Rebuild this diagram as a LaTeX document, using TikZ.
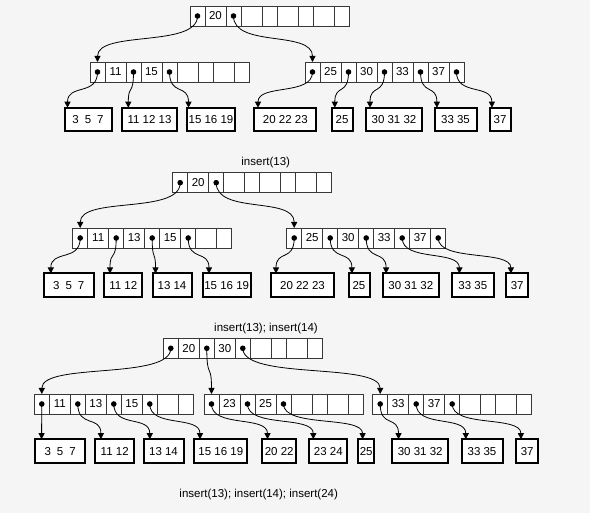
\documentclass[tikz,border=0pt]{standalone}
\usepackage{fontspec}
\setmainfont{Liberation Sans}
\usetikzlibrary{arrows.meta,calc}
\definecolor{bg}{HTML}{F5F5F5}
\definecolor{cellline}{HTML}{383838}
\tikzset{
  cell/.style={draw=cellline, line width=0.9pt, fill=white, minimum height=20pt,
    inner sep=0pt, outer sep=0pt, font=\fontsize{11.5}{13}\selectfont, anchor=west},
  pcell/.style={cell, minimum width=15pt},
  kcell/.style={cell, minimum width=21pt},
  leaf/.style={draw=black, line width=2pt, fill=white, inner sep=0pt, outer sep=0pt,
    font=\fontsize{11.5}{13}\selectfont},
  link/.style={draw=black, line width=0.8pt, -{Triangle[length=6pt,width=6pt]}},
  caption/.style={font=\fontsize{11.5}{13}\selectfont, inner sep=0pt},
}
% internal B-tree node: name, left x, top y, four keys
\newcommand\bnode[7]{%
  \node[pcell, anchor=north west] (#1p0) at (#2,#3) {};
  \node[kcell] (#1k1) at (#1p0.east) {#4};
  \node[pcell] (#1p1) at (#1k1.east) {};
  \node[kcell] (#1k2) at (#1p1.east) {#5};
  \node[pcell] (#1p2) at (#1k2.east) {};
  \node[kcell] (#1k3) at (#1p2.east) {#6};
  \node[pcell] (#1p3) at (#1k3.east) {};
  \node[kcell] (#1k4) at (#1p3.east) {#7};
  \node[pcell] (#1p4) at (#1k4.east) {};
}
% leaf block: name, centre x, centre y, width, height, contents
\newcommand\leafbox[6]{%
  \node[leaf, minimum width=#4pt, minimum height=#5pt] (#1) at (#2,#3) {#6};
}
% pointer: source cell, target node, x offset from its north-west corner, bend length
\newcommand\ptr[4]{%
  \fill (#1.center) circle (2.8pt);
  \draw[link] (#1.center) .. controls +(0,#4) and ($(#2.north west)+(#3,-#4)$)
    .. ($(#2.north west)+(#3,0)$);
}
\newcommand\gapp{\hspace{6pt}}
\begin{document}
\begin{tikzpicture}[x=1pt,y=-1pt]
\fill[bg] (0,0) rectangle (590,513);
\useasboundingbox (0,0) rectangle (590,513);

% ---------- first tree ----------
\bnode{ta}{190}{6}{20}{}{}{}
\bnode{aa}{90}{62}{11}{15}{}{}
\bnode{ba}{305}{62}{25}{30}{33}{37}
\leafbox{la1}{88}{119.2}{47}{23}{3\gapp 5\gapp 7}
\leafbox{la2}{149.5}{119.2}{55}{23}{11 12 13}
\leafbox{la3}{211}{119.2}{48}{23}{15 16 19}
\leafbox{la4}{285.3}{119.2}{62}{23}{20 22 23}
\leafbox{la5}{342}{119.2}{21}{23}{25}
\leafbox{la6}{394}{119.2}{56}{23}{30 31 32}
\leafbox{la7}{455.5}{119.2}{42}{23}{33 35}
\leafbox{la8}{500}{119.2}{21}{23}{37}
\ptr{tap0}{aap0}{7.5}{32}
\ptr{tap1}{bap0}{7.5}{32}
\ptr{aap0}{la1}{3}{24}
\ptr{aap1}{la2}{6.3}{24}
\ptr{aap2}{la3}{1.5}{24}
\ptr{bap0}{la4}{3.7}{24}
\ptr{bap1}{la5}{3.3}{24}
\ptr{bap2}{la6}{4}{24}
\ptr{bap3}{la7}{2.4}{24}
\ptr{bap4}{la8}{2.4}{24}

% ---------- second tree ----------
\node[caption] (capb) at (265.7,163) {insert(13)};
\bnode{tb}{172.7}{172.7}{20}{}{}{}
\bnode{ab}{72.7}{228}{11}{13}{15}{}
\bnode{bb}{286.7}{228}{25}{30}{33}{37}
\leafbox{lb1}{68.8}{285.5}{50}{24}{3\gapp 5\gapp 7}
\leafbox{lb2}{123.3}{285.5}{38}{24}{11 12}
\leafbox{lb3}{172}{285.5}{39}{24}{13 14}
\leafbox{lb4}{226.7}{285.5}{48}{24}{15 16 19}
\leafbox{lb5}{302.5}{285.5}{63}{24}{20 22 23}
\leafbox{lb6}{359}{285.5}{21}{24}{25}
\leafbox{lb7}{410.8}{285.5}{56}{24}{30 31 32}
\leafbox{lb8}{472.8}{285.5}{42}{24}{33 35}
\leafbox{lb9}{517.2}{285.5}{22}{24}{37}
\ptr{tbp0}{abp0}{7.5}{32}
\ptr{tbp1}{bbp0}{7.5}{32}
\ptr{abp0}{lb1}{7}{24}
\ptr{abp1}{lb2}{5.7}{24}
\ptr{abp2}{lb3}{3}{24}
\ptr{abp3}{lb4}{6.3}{24}
\ptr{bbp0}{lb5}{5}{24}
\ptr{bbp1}{lb6}{3.4}{24}
\ptr{bbp2}{lb7}{3.3}{24}
\ptr{bbp3}{lb8}{7.6}{24}
\ptr{bbp4}{lb9}{4.7}{24}

% ---------- third tree ----------
\node[caption] (capc) at (266,329) {insert(13); insert(14)};
\bnode{tc}{163.3}{338.3}{20}{30}{}{}
\bnode{ac}{34.3}{394}{11}{13}{15}{}
\bnode{mc}{204}{394}{23}{25}{}{}
\bnode{cc}{372.7}{394}{33}{37}{}{}
\leafbox{lc1}{60.2}{451.2}{50}{24}{3\gapp 5\gapp 7}
\leafbox{lc2}{114.7}{451.2}{39}{24}{11 12}
\leafbox{lc3}{163.5}{451.2}{40}{24}{13 14}
\leafbox{lc4}{220.8}{451.2}{53}{24}{15 16 19}
\leafbox{lc5}{279.2}{451.2}{34}{24}{20 22}
\leafbox{lc6}{328.3}{451.2}{38}{24}{23 24}
\leafbox{lc7}{366.2}{451.2}{16}{24}{25}
\leafbox{lc8}{420.2}{451.2}{56}{24}{30 31 32}
\leafbox{lc9}{482}{451.2}{41}{24}{33 35}
\leafbox{lc10}{527.2}{451.2}{22}{24}{37}
\ptr{tcp0}{acp0}{7.5}{32}
\ptr{tcp1}{mcp0}{7.5}{32}
\ptr{tcp2}{ccp0}{7.5}{32}
\ptr{acp0}{lc1}{6.4}{24}
\ptr{acp1}{lc2}{5.7}{24}
\ptr{acp2}{lc3}{6.3}{24}
\ptr{acp3}{lc4}{5.7}{24}
\ptr{mcp0}{lc5}{5.3}{24}
\ptr{mcp1}{lc6}{4}{24}
\ptr{mcp2}{lc7}{4.4}{24}
\ptr{ccp0}{lc8}{6.3}{24}
\ptr{ccp1}{lc9}{4.3}{24}
\ptr{ccp2}{lc10}{4.7}{24}

\node[caption] (capd) at (258.7,495) {insert(13); insert(14); insert(24)};
\end{tikzpicture}
\end{document}
